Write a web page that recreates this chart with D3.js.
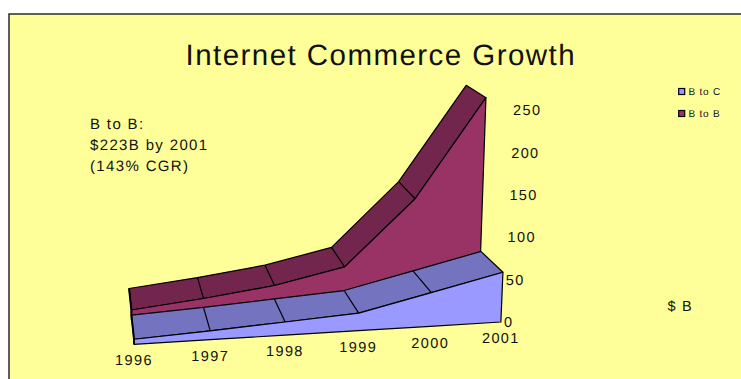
<!DOCTYPE html>
<html>
<head>
<meta charset="utf-8">
<script src="https://cdn.jsdelivr.net/npm/d3@7/dist/d3.min.js"></script>
<style>
html, body { margin: 0; padding: 0; background: #fff; }
svg { display: block; }
text { font-family: "Liberation Sans", Arial, sans-serif; fill: #111; text-rendering: geometricPrecision; }
</style>
</head>
<body>
<svg id="chart" width="741" height="379"></svg>
<script>
const years = ["1996", "1997", "1998", "1999", "2000", "2001"];
const bToC = [7, 12, 18, 24, 45, 65];
const bToB = [14, 24, 36, 55, 130, 223];
const valueTicks = [0, 50, 100, 150, 200, 250];
const legendNames = ["B to C", "B to B"];
const noteLines = ["B to B:", "$223B by 2001", "(143% CGR)"];

const colors = {
  page: "#ffff99",
  cFront: "#9999ff", cTop: "#7373bf",
  bFront: "#993366", bTop: "#73264d"
};

const svg = d3.select("#chart");

// Perspective terms for the receding floor
const perspU = 0.00963, perspD = 0.0587, perspV = -0.001157;
const floorX = d3.scaleLinear().domain([0, 1]).range([134, 212.2]);
const floorY = d3.scaleLinear().domain([0, 1]).range([344.3, 342.94]);
const heightY = d3.scaleLinear().domain([0, 100]).range([0, -111.7]);

function project(u, value, depth) {
  const w = 1 + perspU * u + perspD * depth;
  const x = (floorX(u) + 5.1 * depth) / w + 0.0063 * u * value;
  const y = (floorY(u) - 5.5 * depth + heightY(value)) / (w + perspV * value);
  return [x, y];
}

const line = d3.line();

function face(points, fill, width) {
  svg.append("path")
    .attr("d", line(points) + "Z")
    .attr("fill", fill)
    .attr("stroke", "#000")
    .attr("stroke-width", width || 1.2)
    .attr("stroke-linejoin", "round");
}

// Panel; its right and bottom sides run off the page
svg.append("rect")
  .attr("x", 9).attr("y", 14).attr("width", 800).attr("height", 400)
  .attr("fill", colors.page).attr("stroke", "#2a2a2a").attr("stroke-width", 1.5);

// One ribbon: sloped top with year dividers, then its front wall
function ribbon(values, depth, frontFill, topFill) {
  const u = d3.range(values.length);
  const front = u.map(i => project(i, values[i], depth));
  const back = u.map(i => project(i, values[i], depth + 1));
  const floor = u.map(i => project(i, 0, depth));
  face(front.concat(back.slice().reverse()), topFill);
  u.slice(1, -1).forEach(i => {
    svg.append("path").attr("d", line([front[i], back[i]]))
      .attr("stroke", "#000").attr("stroke-width", 1.2).attr("fill", "none");
  });
  face(front.concat(floor.slice().reverse()), frontFill);
}

ribbon(bToB, 1, colors.bFront, colors.bTop);
ribbon(bToC, 0, colors.cFront, colors.cTop);

// Left end of the stack, seen almost edge-on
svg.append("path")
  .attr("d", line([
    project(0, bToB[0], 2), project(0, bToB[0], 1),
    project(0, bToC[0], 1), project(0, bToC[0], 0), project(0, 0, 0)
  ]))
  .attr("fill", "none").attr("stroke", "#000").attr("stroke-width", 2);

// Title
svg.append("text")
  .attr("x", 185.5).attr("y", 65)
  .attr("font-size", 29.5)
  .attr("letter-spacing", 1.45)
  .text("Internet Commerce Growth");

// Annotation
svg.selectAll(".note").data(noteLines).join("text")
  .attr("class", "note")
  .attr("x", 90)
  .attr("y", (d, i) => 128.5 + i * 21.3)
  .attr("font-size", 15)
  .attr("letter-spacing", 1.35)
  .text(d => d);

// Year labels follow the floor edge
const yearLabelY = d3.scaleLinear().domain([0, 5]).range([365, 343.3]);
svg.selectAll(".year").data(years).join("text")
  .attr("class", "year")
  .attr("x", (d, i) => project(i, 0, 0)[0])
  .attr("y", (d, i) => yearLabelY(i))
  .attr("text-anchor", "middle")
  .attr("font-size", 14.5)
  .attr("letter-spacing", 1.4)
  .text(d => d);

// Value axis labels drift slightly right as they climb
const tickY = d3.scaleLinear().domain([0, 250]).range([322, 110]);
const tickX = d3.scaleLinear().domain([0, 250]).range([504, 513]);
svg.selectAll(".tick").data(valueTicks).join("text")
  .attr("class", "tick")
  .attr("x", d => tickX(d))
  .attr("y", d => tickY(d))
  .attr("dy", "0.36em")
  .attr("font-size", 14.5)
  .attr("letter-spacing", 1.4)
  .text(d => d);

svg.append("text")
  .attr("x", 667.5).attr("y", 311)
  .attr("font-size", 14.5).attr("letter-spacing", 1.2)
  .text("$ B");

// Legend
const legendColors = [colors.cFront, colors.bFront];
const legend = svg.selectAll(".legend").data(legendNames).join("g")
  .attr("class", "legend")
  .attr("transform", (d, i) => `translate(678.7,${88.5 + i * 22})`);
legend.append("rect")
  .attr("width", 6).attr("height", 6)
  .attr("fill", (d, i) => legendColors[i])
  .attr("stroke", "#000").attr("stroke-width", 1.2);
legend.append("text")
  .attr("x", 9.7).attr("y", 6.7)
  .attr("font-size", 10)
  .attr("letter-spacing", 0.8)
  .text(d => d);
</script>
</body>
</html>
